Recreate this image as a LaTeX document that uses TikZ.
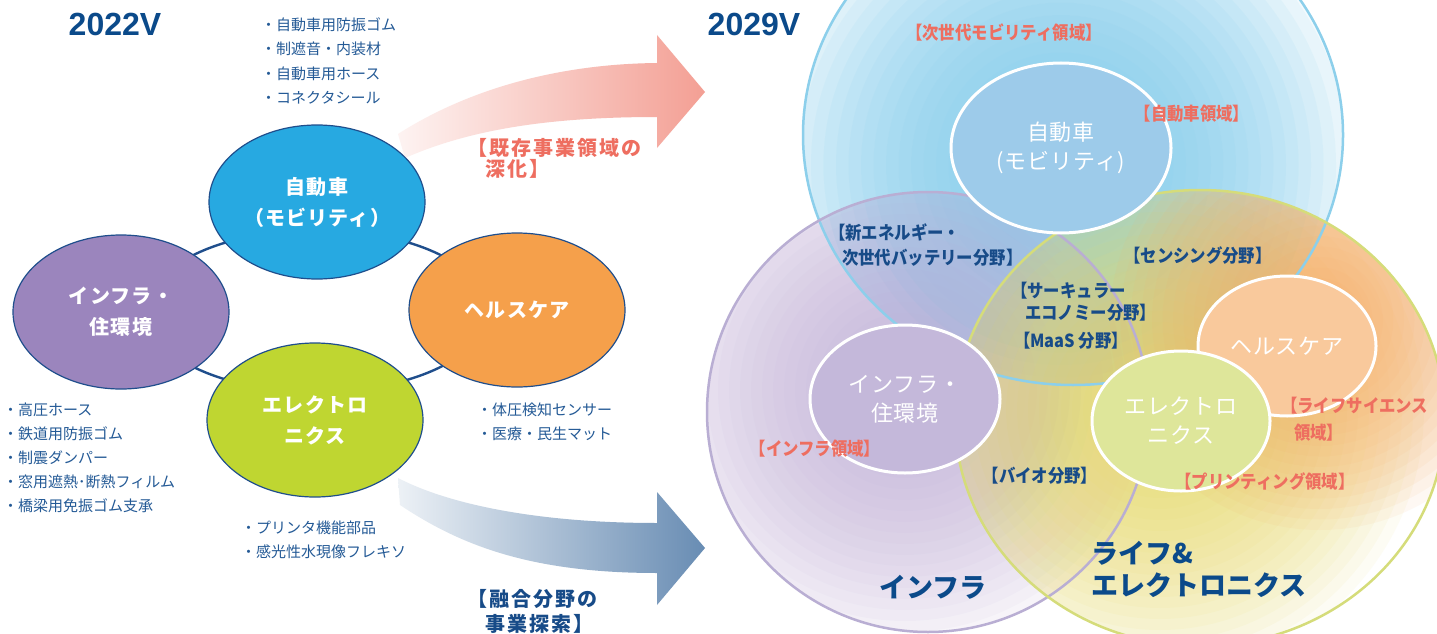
\documentclass[tikz,border=0pt]{standalone}
\usepackage{fontspec}
\setmainfont{Noto Sans CJK JP}
\newfontfamily\latinb{Liberation Sans}
\newfontfamily\condf{Noto Sans CJK JP}[FakeStretch=0.91]
\usetikzlibrary{shapes.geometric}
\definecolor{navy}{HTML}{0B4A8A}
\definecolor{txtblue}{HTML}{245A96}
\definecolor{labblue}{HTML}{174B88}
\definecolor{ringblue}{HTML}{1F4E8C}
\definecolor{salmon}{HTML}{EE6E60}
\definecolor{arrowpink}{HTML}{EE7565}
\definecolor{arrowblue}{HTML}{265A92}
\definecolor{carc}{HTML}{27A9E1}
\definecolor{infc}{HTML}{9B85BD}
\definecolor{hlthc}{HTML}{F5A04B}
\definecolor{elecc}{HTML}{BFD631}
\definecolor{blueglowc}{HTML}{7FCCEE}
\definecolor{purpleglowc}{HTML}{BCA9D6}
\definecolor{yellowc}{HTML}{E8DA5E}
\definecolor{orangec}{HTML}{F6AE68}
\definecolor{bluelinec}{HTML}{8CCFEB}
\definecolor{purplelinec}{HTML}{B9AED3}
\definecolor{greenlinec}{HTML}{D5DC7A}
\definecolor{rcarc}{HTML}{9DCBEA}
\definecolor{rinfc}{HTML}{C4B8DA}
\definecolor{rhlc}{HTML}{F9C99C}
\definecolor{relc}{HTML}{DEE69A}
\pgfdeclarehorizontalshading{pinkgrad}{100bp}{color(0bp)=(white); color(18bp)=(white); color(100bp)=(arrowpink)}
\pgfdeclarehorizontalshading{bluegrad}{100bp}{color(0bp)=(white); color(18bp)=(white); color(100bp)=(arrowblue)}
\begin{document}
\begin{tikzpicture}[x=1pt,y=-1pt,
  bullet/.style={font=\fontsize{15}{18}\selectfont, text=txtblue, inner sep=0pt, anchor=base west},
  lell/.style={ellipse, draw=ringblue, line width=1.2pt, minimum width=216pt, minimum height=154pt, inner sep=0pt, text=white, align=center, font=\fontsize{20}{31}\selectfont\bfseries\addfontfeature{LetterSpace=6}},
  rin/.style={ellipse, draw=white, line width=3pt, inner sep=0pt, text=white, align=center, font=\fontsize{22}{29}\selectfont\addfontfeature{LetterSpace=4}},
  lab/.style={font=\condf\fontsize{18}{22}\selectfont\bfseries, inner sep=0pt},
  redlab/.style={lab, text=salmon},
  bluelab/.style={lab, text=labblue},
  big/.style={font=\fontsize{27}{30}\selectfont\bfseries, text=navy, inner sep=0pt, anchor=base west},
  yr/.style={font=\latinb\bfseries\fontsize{32}{32}\selectfont, text=navy, inner sep=0pt},
  arrlab/.style={font=\fontsize{20}{24}\selectfont\bfseries\addfontfeature{LetterSpace=10}, inner sep=0pt, anchor=base west}
]
\useasboundingbox (0,0) rectangle (1437,634);
\fill[white] (0,0) rectangle (1437,634);

% ---------- right side: overlapping fields (glows built from stacked translucent discs) ----------
\begin{scope}
  \clip (1073,135) ellipse [x radius=270, y radius=250];
  \foreach \k in {1,...,24}
    \fill[blueglowc, fill opacity=0.09] (1061,165) circle ({12.5*\k});
\end{scope}
\begin{scope}
  \clip (928,412) ellipse [x radius=221, y radius=220];
  \foreach \k in {1,...,24}
    \fill[purpleglowc, fill opacity=0.06] (905,390) circle ({11*\k});
\end{scope}
\begin{scope}
  \clip (1200,418) ellipse [x radius=245, y radius=228];
  \foreach \k in {1,...,24}
    \fill[yellowc, fill opacity=0.065] (1160,410) circle ({11*\k});
  \foreach \k in {1,...,20}
    \fill[orangec, fill opacity=0.08] (1320,320) circle ({10.5*\k});
\end{scope}
\draw[bluelinec, line width=2.5pt] (1073,135) ellipse [x radius=270, y radius=250];
\draw[purplelinec, line width=2.5pt] (928,412) ellipse [x radius=221, y radius=220];
\draw[greenlinec, line width=2.5pt] (1200,418) ellipse [x radius=245, y radius=228];

\node[rin, fill=rcarc, minimum width=220pt, minimum height=170pt] (rcar) at (1061,148) {自動車\\(モビリティ)};
\node[rin, fill=rinfc, minimum width=190pt, minimum height=148pt] (rinf) at (905,399) {インフラ・\\住環境};
\node[rin, fill=rhlc, minimum width=178pt, minimum height=140pt] (rhl) at (1287,346) {ヘルスケア};
\node[rin, fill=relc, minimum width=178pt, minimum height=140pt] (rel) at (1181,421) {エレクトロ\\ニクス};

\node[redlab, anchor=base] (l1) at (1004,40) {【次世代モビリティ領域】};
\node[redlab, anchor=base] (l2) at (1192,120) {【自動車領域】};
\node[bluelab, anchor=base west] (l3) at (829,239) {【新エネルギー・};
\node[bluelab, anchor=base west] (l4) at (842,264) {次世代バッテリー分野】};
\node[bluelab, anchor=base] (l5) at (1198,262) {【センシング分野】};
\node[bluelab, anchor=base west] (l6) at (1011,297) {【サーキュラー};
\node[bluelab, anchor=base west] (l7) at (1025,319) {エコノミー分野】};
\node[bluelab, anchor=base] (l8) at (1071,347) {【MaaS 分野】};
\node[redlab, anchor=base] (l9) at (815,455) {【インフラ領域】};
\node[bluelab, anchor=base] (l10) at (1040,482) {【バイオ分野】};
\node[redlab, anchor=base west] (l11) at (1281,412) {【ライフサイエンス};
\node[redlab, anchor=base west] (l12) at (1294,439) {領域】};
\node[redlab, anchor=base] (l13) at (1265,488) {【プリンティング領域】};
\node[big] (b1) at (879,597) {インフラ};
\node[big] (b2) at (1091,563) {ライフ\&};
\node[big] (b3) at (1091,595) {エレクトロニクス};

% ---------- arrows ----------
\shade[shading=pinkgrad] (398,134) .. controls (470,88) and (560,64) .. (657,63) -- (657,35) -- (705,92) -- (657,148) -- (657,117) .. controls (560,117) and (475,127) .. (405,158) -- cycle;
\shade[shading=bluegrad] (398,478) .. controls (450,505) and (540,523) .. (657,523) -- (657,492) -- (705,548) -- (657,605) -- (657,573) .. controls (530,573) and (460,545) .. (400,505) -- cycle;
\node[arrlab, text=salmon] (a1) at (467,155) {【既存事業領域の};
\node[arrlab, text=salmon] (a2) at (485,176) {深化】};
\node[arrlab, text=labblue] (a3) at (467,606) {【融合分野の};
\node[arrlab, text=labblue] (a4) at (485,631) {事業探索】};

% ---------- left side ----------
\draw[ringblue, line width=2.4pt] (317,311) ellipse [x radius=171, y radius=81];
\node[lell, fill=carc] (lcar) at (317,202) {自動車\\（モビリティ）};
\node[lell, fill=infc] (linf) at (121,312) {インフラ・\\住環境};
\node[lell, fill=hlthc] (lhl) at (517,310) {ヘルスケア};
\node[lell, fill=elecc] (lel) at (315,420) {エレクトロ\\ニクス};

\node[yr] (y1) at (115,24) {2022V};
\node[yr] (y2) at (754,24) {2029V};

\foreach \t [count=\i] in {・自動車用防振ゴム,・制遮音・内装材,・自動車用ホース,・コネクタシール}
  \node[bullet] (tb\i) at (261,7+24*\i) {\t};
\foreach \t [count=\i] in {・高圧ホース,・鉄道用防振ゴム,・制震ダンパー,・窓用遮熱･断熱フィルム,・橋梁用免振ゴム支承}
  \node[bullet] (lb\i) at (3,391+24*\i) {\t};
\foreach \t [count=\i] in {・体圧検知センサー,・医療・民生マット}
  \node[bullet] (hb\i) at (477,391+24*\i) {\t};
\foreach \t [count=\i] in {・プリンタ機能部品,・感光性水現像フレキソ}
  \node[bullet] (eb\i) at (241,509+24*\i) {\t};
\end{tikzpicture}
\end{document}
